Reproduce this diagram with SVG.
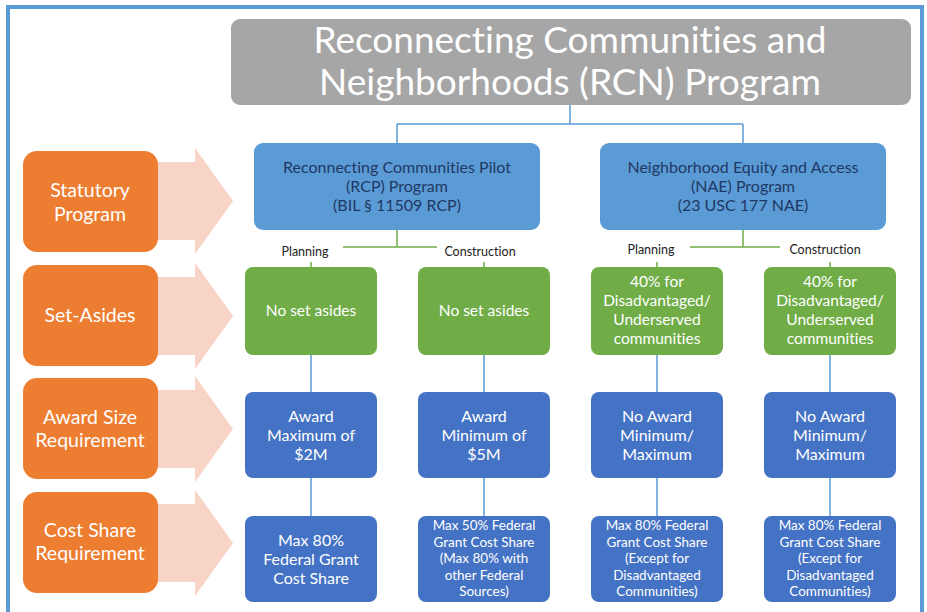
<svg xmlns="http://www.w3.org/2000/svg" width="927" height="612" viewBox="0 0 927 612">
<style>
text{font-family:Lato,"Liberation Sans",sans-serif;text-anchor:middle;font-variant-ligatures:none}
.title{fill:#fff;font-size:37px}
.orange rect{fill:#ed7d31}
.orange text{fill:#fff;font-size:19.5px}
.arrow{fill:#f8d4c6}
.prog rect{fill:#5b9bd5}
.prog text{fill:#1f3864;font-size:16px}
.green rect{fill:#70ad47}
.green text{fill:#fff;font-size:15.5px}
.dblue rect{fill:#4472c4}
.dblue text{fill:#fff;font-size:16px}
.dblue text.s{font-size:13.5px}
.lbl{fill:#222;font-size:12.5px}
.cb{stroke:#5b9bd5;stroke-width:1.5;fill:none}
.cg{stroke:#70ad47;stroke-width:1.5;fill:none}
</style>
<rect x="0" y="0" width="927" height="612" fill="#fff"/>
<rect x="8" y="7" width="914" height="620" fill="none" stroke="#5b9bd5" stroke-width="4"/>

<g id="arrows">
<polygon class="arrow" points="150,162 195,162 195,148 233,201 195,254 195,240 150,240"/>
<polygon class="arrow" points="150,277 195,277 195,263 233,316 195,369 195,355 150,355"/>
<polygon class="arrow" points="150,390 195,390 195,376 233,429 195,482 195,468 150,468"/>
<polygon class="arrow" points="150,504 195,504 195,490 233,543 195,596 195,582 150,582"/>
</g>

<g id="connectors">
<path class="cb" d="M570,105 V124 M397,124 H743 M397,124 V143 M743,124 V143"/>
<path class="cg" d="M397,230 V247 M343,247 H437 M743,230 V247 M690,247 H780"/>
<path class="cg" d="M311,262 V268 M484,262 V268 M657,262 V268 M830,262 V268"/>
<path class="cb" d="M311,355 V392 M484,355 V392 M657,355 V392 M830,355 V392"/>
<path class="cb" d="M311,478 V516 M484,478 V516 M657,478 V516 M830,478 V516"/>
</g>

<g id="title">
<rect x="231" y="19" width="680" height="86" rx="9" fill="#a6a6a6"/>
<text class="title" x="570" y="53">Reconnecting Communities and</text>
<text class="title" x="570" y="95">Neighborhoods (RCN) Program</text>
</g>

<g id="row-statutory" class="orange">
<rect x="23" y="151" width="135" height="101" rx="14"/>
<text x="90" y="197">Statutory</text>
<text x="90" y="221">Program</text>
</g>
<g id="row-setasides" class="orange">
<rect x="23" y="265" width="135" height="101" rx="14"/>
<text x="90" y="322">Set-Asides</text>
</g>
<g id="row-award" class="orange">
<rect x="23" y="378" width="135" height="101" rx="14"/>
<text x="90" y="424">Award Size</text>
<text x="90" y="447">Requirement</text>
</g>
<g id="row-cost" class="orange">
<rect x="23" y="492" width="135" height="101" rx="14"/>
<text x="90" y="537">Cost Share</text>
<text x="90" y="560">Requirement</text>
</g>

<g id="rcp" class="prog">
<rect x="254" y="143" width="286" height="87" rx="9"/>
<text x="397" y="173">Reconnecting Communities Pilot</text>
<text x="397" y="192">(RCP) Program</text>
<text x="397" y="211">(BIL § 11509 RCP)</text>
</g>
<g id="nae" class="prog">
<rect x="600" y="143" width="286" height="87" rx="9"/>
<text x="743" y="173">Neighborhood Equity and Access</text>
<text x="743" y="192">(NAE) Program</text>
<text x="743" y="211">(23 USC 177 NAE)</text>
</g>

<g id="labels">
<text class="lbl" x="305" y="256">Planning</text>
<text class="lbl" x="480" y="256">Construction</text>
<text class="lbl" x="651" y="254">Planning</text>
<text class="lbl" x="825" y="254">Construction</text>
</g>

<g id="sa-rcp-plan" class="green">
<rect x="245" y="267" width="132" height="88" rx="8"/>
<text x="311" y="316">No set asides</text>
</g>
<g id="sa-rcp-cons" class="green">
<rect x="418" y="267" width="132" height="88" rx="8"/>
<text x="484" y="316">No set asides</text>
</g>
<g id="sa-nae-plan" class="green">
<rect x="591" y="267" width="132" height="88" rx="8"/>
<text x="657" y="287">40% for</text>
<text x="657" y="306">Disadvantaged/</text>
<text x="657" y="325">Underserved</text>
<text x="657" y="344">communities</text>
</g>
<g id="sa-nae-cons" class="green">
<rect x="764" y="267" width="132" height="88" rx="8"/>
<text x="830" y="287">40% for</text>
<text x="830" y="306">Disadvantaged/</text>
<text x="830" y="325">Underserved</text>
<text x="830" y="344">communities</text>
</g>

<g id="aw-rcp-plan" class="dblue">
<rect x="245" y="392" width="132" height="86" rx="8"/>
<text x="311" y="422">Award</text>
<text x="311" y="441">Maximum of</text>
<text x="311" y="460">$2M</text>
</g>
<g id="aw-rcp-cons" class="dblue">
<rect x="418" y="392" width="132" height="86" rx="8"/>
<text x="484" y="422">Award</text>
<text x="484" y="441">Minimum of</text>
<text x="484" y="460">$5M</text>
</g>
<g id="aw-nae-plan" class="dblue">
<rect x="591" y="392" width="132" height="86" rx="8"/>
<text x="657" y="422">No Award</text>
<text x="657" y="441">Minimum/</text>
<text x="657" y="460">Maximum</text>
</g>
<g id="aw-nae-cons" class="dblue">
<rect x="764" y="392" width="132" height="86" rx="8"/>
<text x="830" y="422">No Award</text>
<text x="830" y="441">Minimum/</text>
<text x="830" y="460">Maximum</text>
</g>

<g id="cs-rcp-plan" class="dblue">
<rect x="245" y="516" width="132" height="86" rx="8"/>
<text x="311" y="546">Max 80%</text>
<text x="311" y="565">Federal Grant</text>
<text x="311" y="584">Cost Share</text>
</g>
<g id="cs-rcp-cons" class="dblue">
<rect x="418" y="516" width="132" height="86" rx="8"/>
<text class="s" x="484" y="530">Max 50% Federal</text>
<text class="s" x="484" y="547">Grant Cost Share</text>
<text class="s" x="484" y="563">(Max 80% with</text>
<text class="s" x="484" y="580">other Federal</text>
<text class="s" x="484" y="596">Sources)</text>
</g>
<g id="cs-nae-plan" class="dblue">
<rect x="591" y="516" width="132" height="86" rx="8"/>
<text class="s" x="657" y="530">Max 80% Federal</text>
<text class="s" x="657" y="547">Grant Cost Share</text>
<text class="s" x="657" y="563">(Except for</text>
<text class="s" x="657" y="580">Disadvantaged</text>
<text class="s" x="657" y="596">Communities)</text>
</g>
<g id="cs-nae-cons" class="dblue">
<rect x="764" y="516" width="132" height="86" rx="8"/>
<text class="s" x="830" y="530">Max 80% Federal</text>
<text class="s" x="830" y="547">Grant Cost Share</text>
<text class="s" x="830" y="563">(Except for</text>
<text class="s" x="830" y="580">Disadvantaged</text>
<text class="s" x="830" y="596">Communities)</text>
</g>
</svg>
